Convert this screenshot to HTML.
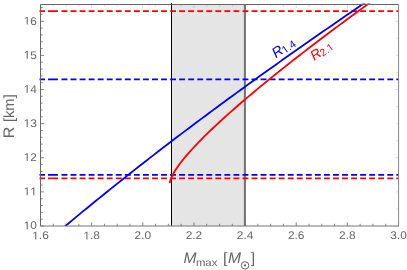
<!DOCTYPE html>
<html><head><meta charset="utf-8"><style>
html,body{margin:0;padding:0;background:#fff;width:407px;height:270px;overflow:hidden;}
svg{display:block;font-family:"Liberation Sans",sans-serif;will-change:transform;text-rendering:geometricPrecision;}
</style></head><body>
<svg width="407" height="270" viewBox="0 0 407 270">
<rect width="407" height="270" fill="#fff"/>
<rect x="171.5" y="4.5" width="73.40" height="221.50" fill="#e5e5e5"/>
<path d="M40.50 226.0 v-3.6 M53.29 226.0 v-2.2 M66.07 226.0 v-2.2 M78.86 226.0 v-2.2 M91.64 226.0 v-3.6 M104.43 226.0 v-2.2 M117.21 226.0 v-2.2 M130.00 226.0 v-2.2 M142.79 226.0 v-3.6 M155.57 226.0 v-2.2 M168.36 226.0 v-2.2 M181.14 226.0 v-2.2 M193.93 226.0 v-3.6 M206.71 226.0 v-2.2 M219.50 226.0 v-2.2 M232.29 226.0 v-2.2 M245.07 226.0 v-3.6 M257.86 226.0 v-2.2 M270.64 226.0 v-2.2 M283.43 226.0 v-2.2 M296.21 226.0 v-3.6 M309.00 226.0 v-2.2 M321.79 226.0 v-2.2 M334.57 226.0 v-2.2 M347.36 226.0 v-3.6 M360.14 226.0 v-2.2 M372.93 226.0 v-2.2 M385.71 226.0 v-2.2 M398.50 226.0 v-3.6 M40.50 226.00 h3.6 M40.50 219.18 h2.2 M40.50 212.35 h2.2 M40.50 205.53 h2.2 M40.50 198.70 h2.2 M40.50 191.88 h3.6 M40.50 185.06 h2.2 M40.50 178.23 h2.2 M40.50 171.41 h2.2 M40.50 164.58 h2.2 M40.50 157.76 h3.6 M40.50 150.94 h2.2 M40.50 144.11 h2.2 M40.50 137.29 h2.2 M40.50 130.46 h2.2 M40.50 123.64 h3.6 M40.50 116.82 h2.2 M40.50 109.99 h2.2 M40.50 103.17 h2.2 M40.50 96.34 h2.2 M40.50 89.52 h3.6 M40.50 82.70 h2.2 M40.50 75.87 h2.2 M40.50 69.05 h2.2 M40.50 62.22 h2.2 M40.50 55.40 h3.6 M40.50 48.58 h2.2 M40.50 41.75 h2.2 M40.50 34.93 h2.2 M40.50 28.10 h2.2 M40.50 21.28 h3.6 M40.50 14.46 h2.2 M40.50 7.63 h2.2" stroke="#666" stroke-width="0.8" fill="none"/>
<path d="M40.50 4.5 v3.6 M53.29 4.5 v2.2 M66.07 4.5 v2.2 M78.86 4.5 v2.2 M91.64 4.5 v3.6 M104.43 4.5 v2.2 M117.21 4.5 v2.2 M130.00 4.5 v2.2 M142.79 4.5 v3.6 M155.57 4.5 v2.2 M168.36 4.5 v2.2 M181.14 4.5 v2.2 M193.93 4.5 v3.6 M206.71 4.5 v2.2 M219.50 4.5 v2.2 M232.29 4.5 v2.2 M245.07 4.5 v3.6 M257.86 4.5 v2.2 M270.64 4.5 v2.2 M283.43 4.5 v2.2 M296.21 4.5 v3.6 M309.00 4.5 v2.2 M321.79 4.5 v2.2 M334.57 4.5 v2.2 M347.36 4.5 v3.6 M360.14 4.5 v2.2 M372.93 4.5 v2.2 M385.71 4.5 v2.2 M398.50 4.5 v3.6 M398.50 226.00 h-3.6 M398.50 208.94 h-2.2 M398.50 191.88 h-2.2 M398.50 174.82 h-2.2 M398.50 157.76 h-3.6 M398.50 140.70 h-2.2 M398.50 123.64 h-2.2 M398.50 106.58 h-2.2 M398.50 89.52 h-3.6 M398.50 72.46 h-2.2 M398.50 55.40 h-2.2 M398.50 38.34 h-2.2 M398.50 21.28 h-3.6 M398.50 4.22 h-2.2" stroke="#999" stroke-width="0.35" fill="none"/>
<clipPath id="c"><rect x="40.5" y="3.5" width="357.9996" height="222.5"/></clipPath>
<path d="M244.9 4.5 V226.0" stroke="#707070" stroke-width="2"/>
<path d="M171.5 3.0 V226.0" stroke="#000" stroke-width="1"/>
<path d="M39.5 11.15H45M48 11.15H58M61.50 11.15H67.40M70.55 11.15H76.45M79.60 11.15H85.50M88.65 11.15H94.55M97.70 11.15H103.60M106.75 11.15H112.65M115.80 11.15H121.70M124.85 11.15H130.75M133.90 11.15H139.80M142.95 11.15H148.85M152.00 11.15H157.90M161.05 11.15H166.95M170.10 11.15H176.00M179.15 11.15H185.05M188.20 11.15H194.10M197.25 11.15H203.15M206.30 11.15H212.20M215.35 11.15H221.25M224.40 11.15H230.30M233.45 11.15H239.35M242.50 11.15H248.40M251.55 11.15H257.45M260.60 11.15H266.50M269.65 11.15H275.55M278.70 11.15H284.60M287.75 11.15H293.65M296.80 11.15H302.70M305.85 11.15H311.75M314.90 11.15H320.80M323.95 11.15H329.85M333.00 11.15H338.90M342.05 11.15H347.95M351.10 11.15H357.00M360.15 11.15H366.05M369.20 11.15H375.10M378.25 11.15H384.15M387.30 11.15H393.20M396.35 11.15H398.80" stroke="#f00" stroke-width="1.65" fill="none"/>
<path d="M39.5 178.3H45M48 178.3H58M61.50 178.3H67.40M70.55 178.3H76.45M79.60 178.3H85.50M88.65 178.3H94.55M97.70 178.3H103.60M106.75 178.3H112.65M115.80 178.3H121.70M124.85 178.3H130.75M133.90 178.3H139.80M142.95 178.3H148.85M152.00 178.3H157.90M161.05 178.3H166.95M170.10 178.3H176.00M179.15 178.3H185.05M188.20 178.3H194.10M197.25 178.3H203.15M206.30 178.3H212.20M215.35 178.3H221.25M224.40 178.3H230.30M233.45 178.3H239.35M242.50 178.3H248.40M251.55 178.3H257.45M260.60 178.3H266.50M269.65 178.3H275.55M278.70 178.3H284.60M287.75 178.3H293.65M296.80 178.3H302.70M305.85 178.3H311.75M314.90 178.3H320.80M323.95 178.3H329.85M333.00 178.3H338.90M342.05 178.3H347.95M351.10 178.3H357.00M360.15 178.3H366.05M369.20 178.3H375.10M378.25 178.3H384.15M387.30 178.3H393.20M396.35 178.3H398.80" stroke="#f00" stroke-width="1.65" fill="none"/>
<path d="M39.5 79.36H45M48 79.36H58M61.50 79.36H67.40M70.55 79.36H76.45M79.60 79.36H85.50M88.65 79.36H94.55M97.70 79.36H103.60M106.75 79.36H112.65M115.80 79.36H121.70M124.85 79.36H130.75M133.90 79.36H139.80M142.95 79.36H148.85M152.00 79.36H157.90M161.05 79.36H166.95M170.10 79.36H176.00M179.15 79.36H185.05M188.20 79.36H194.10M197.25 79.36H203.15M206.30 79.36H212.20M215.35 79.36H221.25M224.40 79.36H230.30M233.45 79.36H239.35M242.50 79.36H248.40M251.55 79.36H257.45M260.60 79.36H266.50M269.65 79.36H275.55M278.70 79.36H284.60M287.75 79.36H293.65M296.80 79.36H302.70M305.85 79.36H311.75M314.90 79.36H320.80M323.95 79.36H329.85M333.00 79.36H338.90M342.05 79.36H347.95M351.10 79.36H357.00M360.15 79.36H366.05M369.20 79.36H375.10M378.25 79.36H384.15M387.30 79.36H393.20M396.35 79.36H398.80" stroke="#00f" stroke-width="1.65" fill="none"/>
<path d="M39.5 174.9H45M48 174.9H58M61.50 174.9H67.40M70.55 174.9H76.45M79.60 174.9H85.50M88.65 174.9H94.55M97.70 174.9H103.60M106.75 174.9H112.65M115.80 174.9H121.70M124.85 174.9H130.75M133.90 174.9H139.80M142.95 174.9H148.85M152.00 174.9H157.90M161.05 174.9H166.95M170.10 174.9H176.00M179.15 174.9H185.05M188.20 174.9H194.10M197.25 174.9H203.15M206.30 174.9H212.20M215.35 174.9H221.25M224.40 174.9H230.30M233.45 174.9H239.35M242.50 174.9H248.40M251.55 174.9H257.45M260.60 174.9H266.50M269.65 174.9H275.55M278.70 174.9H284.60M287.75 174.9H293.65M296.80 174.9H302.70M305.85 174.9H311.75M314.90 174.9H320.80M323.95 174.9H329.85M333.00 174.9H338.90M342.05 174.9H347.95M351.10 174.9H357.00M360.15 174.9H366.05M369.20 174.9H375.10M378.25 174.9H384.15M387.30 174.9H393.20M396.35 174.9H398.80" stroke="#00f" stroke-width="1.65" fill="none"/>
<path d="M60.00 230.52 L63.92 227.23 L67.85 223.94 L71.77 220.67 L75.70 217.41 L79.62 214.17 L83.54 210.93 L87.47 207.71 L91.39 204.50 L95.32 201.30 L99.24 198.11 L103.16 194.93 L107.09 191.76 L111.01 188.61 L114.94 185.47 L118.86 182.33 L122.78 179.21 L126.71 176.10 L130.63 173.00 L134.56 169.91 L138.48 166.83 L142.41 163.76 L146.33 160.70 L150.25 157.65 L154.18 154.61 L158.10 151.58 L162.03 148.56 L165.95 145.55 L169.87 142.55 L173.80 139.56 L177.72 136.58 L181.65 133.60 L185.57 130.64 L189.49 127.68 L193.42 124.73 L197.34 121.80 L201.27 118.86 L205.19 115.94 L209.11 113.03 L213.04 110.12 L216.96 107.23 L220.89 104.34 L224.81 101.46 L228.73 98.58 L232.66 95.72 L236.58 92.86 L240.51 90.00 L244.43 87.16 L248.35 84.32 L252.28 81.49 L256.20 78.67 L260.13 75.85 L264.05 73.04 L267.97 70.24 L271.90 67.44 L275.82 64.65 L279.75 61.86 L283.67 59.08 L287.59 56.31 L291.52 53.54 L295.44 50.78 L299.37 48.03 L303.29 45.28 L307.22 42.53 L311.14 39.79 L315.06 37.05 L318.99 34.32 L322.91 31.60 L326.84 28.88 L330.76 26.16 L334.68 23.45 L338.61 20.74 L342.53 18.04 L346.46 15.34 L350.38 12.65 L354.30 9.96 L358.23 7.27 L362.15 4.59 L366.08 1.91 L370.00 -0.77" stroke="#00f" stroke-width="1.8" fill="none" clip-path="url(#c)"/>
<path d="M169.70 183.01 L169.72 182.87 L169.80 182.50 L169.91 181.95 L170.08 181.29 L170.29 180.55 L170.56 179.75 L170.87 178.90 L171.22 178.00 L171.63 177.06 L172.08 176.09 L172.58 175.09 L173.12 174.05 L173.72 172.98 L174.36 171.88 L175.05 170.75 L175.79 169.59 L176.57 168.39 L177.41 167.17 L178.29 165.92 L179.21 164.64 L180.19 163.33 L181.21 162.00 L182.28 160.63 L183.40 159.24 L184.56 157.82 L185.78 156.36 L187.04 154.89 L188.34 153.38 L189.70 151.84 L191.81 149.50 L194.12 147.00 L196.43 144.55 L198.74 142.15 L201.05 139.79 L203.36 137.46 L205.67 135.17 L207.98 132.92 L210.29 130.69 L212.60 128.48 L214.91 126.30 L217.22 124.14 L219.53 122.01 L221.84 119.89 L224.15 117.79 L226.46 115.70 L228.77 113.64 L231.08 111.59 L233.39 109.55 L235.70 107.53 L238.01 105.51 L240.32 103.52 L242.63 101.53 L244.94 99.56 L247.25 97.59 L249.56 95.64 L251.87 93.70 L254.18 91.76 L256.49 89.84 L258.80 87.92 L261.11 86.01 L263.42 84.12 L265.73 82.23 L268.04 80.34 L270.35 78.47 L272.66 76.60 L274.97 74.74 L277.28 72.88 L279.59 71.04 L281.91 69.20 L284.22 67.36 L286.53 65.53 L288.84 63.71 L291.15 61.90 L293.46 60.08 L295.77 58.28 L298.08 56.48 L300.39 54.69 L302.70 52.90 L305.01 51.11 L307.32 49.33 L309.63 47.56 L311.94 45.79 L314.25 44.02 L316.56 42.26 L318.87 40.51 L321.18 38.76 L323.49 37.01 L325.80 35.26 L328.11 33.53 L330.42 31.79 L332.73 30.06 L335.04 28.33 L337.35 26.61 L339.66 24.89 L341.97 23.17 L344.28 21.46 L346.59 19.75 L348.90 18.05 L351.21 16.34 L353.52 14.65 L355.83 12.95 L358.14 11.26 L360.45 9.57 L362.76 7.88 L365.07 6.20 L367.38 4.52 L369.69 2.85 L372.00 1.17" stroke="#f00" stroke-width="1.8" fill="none" clip-path="url(#c)"/>
<path d="M40.5 226.0V4.5H398.4996" fill="none" stroke="#666" stroke-width="1"/>
<path d="M398.5996 4.5V226.0" fill="none" stroke="#888" stroke-width="1"/>
<path d="M398.9996 226.0H40.5" fill="none" stroke="#777" stroke-width="1"/>
<g transform="translate(40.50 239.4) scale(1.07 1)"><path d="M515 0V1237L197 1010V1180L530 1409H696V0Z" transform="translate(-7.715 0.000) scale(0.005420 -0.005420)" fill="#666"/><text x="-1.542" font-size="11.1" fill="#666">.6</text></g>
<g transform="translate(91.64 239.4) scale(1.07 1)"><path d="M515 0V1237L197 1010V1180L530 1409H696V0Z" transform="translate(-7.715 0.000) scale(0.005420 -0.005420)" fill="#666"/><text x="-1.542" font-size="11.1" fill="#666">.8</text></g>
<text transform="translate(142.79 239.4) scale(1.07 1)" text-anchor="middle" font-size="11.1" fill="#666">2.0</text>
<text transform="translate(193.93 239.4) scale(1.07 1)" text-anchor="middle" font-size="11.1" fill="#666">2.2</text>
<text transform="translate(245.07 239.4) scale(1.07 1)" text-anchor="middle" font-size="11.1" fill="#666">2.4</text>
<text transform="translate(296.21 239.4) scale(1.07 1)" text-anchor="middle" font-size="11.1" fill="#666">2.6</text>
<text transform="translate(347.36 239.4) scale(1.07 1)" text-anchor="middle" font-size="11.1" fill="#666">2.8</text>
<text transform="translate(398.50 239.4) scale(1.07 1)" text-anchor="middle" font-size="11.1" fill="#666">3.0</text>
<g transform="translate(36.9 229.25) scale(1.07 1)"><path d="M515 0V1237L197 1010V1180L530 1409H696V0Z" transform="translate(-12.347 0.000) scale(0.005420 -0.005420)" fill="#666"/><text x="-6.173" font-size="11.1" fill="#666">0</text></g>
<g transform="translate(36.9 195.13) scale(1.07 1)"><path d="M515 0V1237L197 1010V1180L530 1409H696V0Z" transform="translate(-12.347 0.000) scale(0.005420 -0.005420)" fill="#666"/><path d="M515 0V1237L197 1010V1180L530 1409H696V0Z" transform="translate(-6.173 0.000) scale(0.005420 -0.005420)" fill="#666"/></g>
<g transform="translate(36.9 161.01) scale(1.07 1)"><path d="M515 0V1237L197 1010V1180L530 1409H696V0Z" transform="translate(-12.347 0.000) scale(0.005420 -0.005420)" fill="#666"/><text x="-6.173" font-size="11.1" fill="#666">2</text></g>
<g transform="translate(36.9 126.89) scale(1.07 1)"><path d="M515 0V1237L197 1010V1180L530 1409H696V0Z" transform="translate(-12.347 0.000) scale(0.005420 -0.005420)" fill="#666"/><text x="-6.173" font-size="11.1" fill="#666">3</text></g>
<g transform="translate(36.9 92.77) scale(1.07 1)"><path d="M515 0V1237L197 1010V1180L530 1409H696V0Z" transform="translate(-12.347 0.000) scale(0.005420 -0.005420)" fill="#666"/><text x="-6.173" font-size="11.1" fill="#666">4</text></g>
<g transform="translate(36.9 58.65) scale(1.07 1)"><path d="M515 0V1237L197 1010V1180L530 1409H696V0Z" transform="translate(-12.347 0.000) scale(0.005420 -0.005420)" fill="#666"/><text x="-6.173" font-size="11.1" fill="#666">5</text></g>
<g transform="translate(36.9 24.53) scale(1.07 1)"><path d="M515 0V1237L197 1010V1180L530 1409H696V0Z" transform="translate(-12.347 0.000) scale(0.005420 -0.005420)" fill="#666"/><text x="-6.173" font-size="11.1" fill="#666">6</text></g>
<text transform="translate(13.9 138.2) rotate(-90) scale(1.05 1)" font-size="15.3" fill="#666">R</text>
<text transform="translate(13.9 122.1) rotate(-90) scale(1.01 1)" font-size="14.6" fill="#666">[km]</text>
<text transform="translate(183.5 262.7) scale(1.02 1)" font-size="15.3" font-style="italic" fill="#666">M</text>
<text transform="translate(195.9 266.3) scale(1.09 1)" font-size="10.4" fill="#666">max</text>
<text transform="translate(223.0 262.9) scale(1.07 1)" font-size="15" fill="#666">[</text>
<text transform="translate(227.9 262.7) scale(1.02 1)" font-size="15.3" font-style="italic" fill="#666">M</text>
<circle cx="245.05" cy="265.4" r="3.75" fill="none" stroke="#666" stroke-width="1"/><circle cx="245.05" cy="265.4" r="1.1" fill="#666"/>
<text transform="translate(250.7 262.9) scale(1.07 1)" font-size="15" fill="#666">]</text>
<g transform="translate(276.1 58.6) rotate(-35)"><text font-size="14.4" font-style="italic" fill="#00f">R</text><path d="M515 0V1237L197 1010V1180L530 1409H696V0Z" transform="translate(9.799 1.300) scale(0.005176 -0.005176)" fill="#00f"/><text x="15.694" y="1.3" font-size="10.6" fill="#00f">.4</text></g>
<g transform="translate(314.2 60.9) rotate(-35)"><text font-size="13.9" font-style="italic" fill="#f00">R</text><text x="9.438" y="1.5" font-size="10.2" fill="#f00">2.</text><path d="M515 0V1237L197 1010V1180L530 1409H696V0Z" transform="translate(17.945 1.500) scale(0.004980 -0.004980)" fill="#f00"/></g>
</svg>
</body></html>
